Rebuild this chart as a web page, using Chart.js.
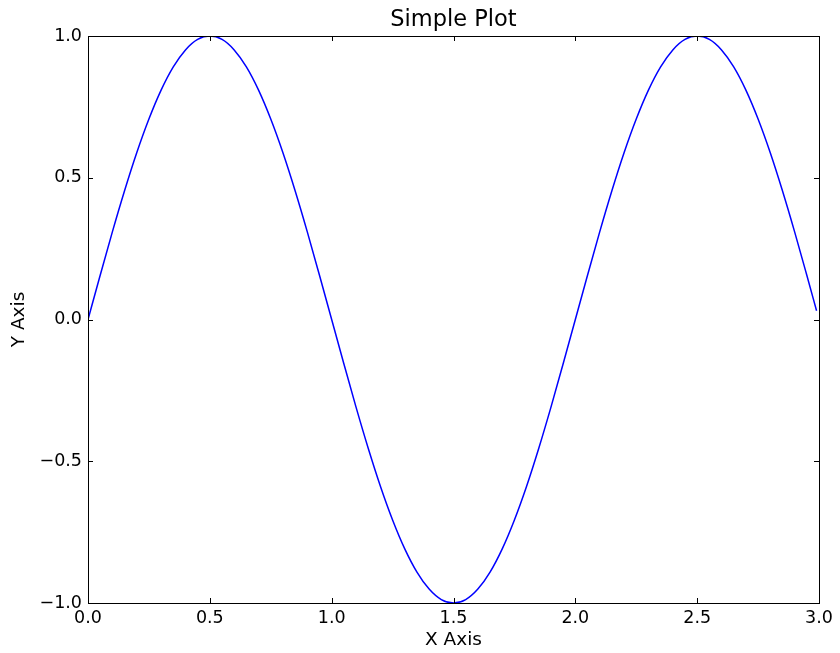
<!DOCTYPE html>
<html>
<head>
<meta charset="utf-8">
<script src="https://cdn.jsdelivr.net/npm/chart.js@4"></script>
<style>
  html, body { margin: 0; padding: 0; background: #ffffff; }
  #wrap { width: 840px; height: 653px; }
</style>
</head>
<body>
<div id="wrap"><canvas id="chart" width="840" height="653"></canvas></div>
<script>
// values
const chartTitle = "Simple Plot";
const xTitle = "X Axis";
const yTitle = "Y Axis";

const xValues = [
  0.00, 0.05, 0.10, 0.15, 0.20, 0.25, 0.30, 0.35, 0.40, 0.45,
  0.50, 0.55, 0.60, 0.65, 0.70, 0.75, 0.80, 0.85, 0.90, 0.95,
  1.00, 1.05, 1.10, 1.15, 1.20, 1.25, 1.30, 1.35, 1.40, 1.45,
  1.50, 1.55, 1.60, 1.65, 1.70, 1.75, 1.80, 1.85, 1.90, 1.95,
  2.00, 2.05, 2.10, 2.15, 2.20, 2.25, 2.30, 2.35, 2.40, 2.45,
  2.50, 2.55, 2.60, 2.65, 2.70, 2.75, 2.80, 2.85, 2.90, 2.95,
  2.99
];
const yValues = [
  0.000, 0.156, 0.309, 0.454, 0.588, 0.707, 0.809, 0.891, 0.951, 0.988,
  1.000, 0.988, 0.951, 0.891, 0.809, 0.707, 0.588, 0.454, 0.309, 0.156,
  0.000, -0.156, -0.309, -0.454, -0.588, -0.707, -0.809, -0.891, -0.951, -0.988,
  -1.000, -0.988, -0.951, -0.891, -0.809, -0.707, -0.588, -0.454, -0.309, -0.156,
  0.000, 0.156, 0.309, 0.454, 0.588, 0.707, 0.809, 0.891, 0.951, 0.988,
  1.000, 0.988, 0.951, 0.891, 0.809, 0.707, 0.588, 0.454, 0.309, 0.156,
  0.031
];
const xTicks = [0.0, 0.5, 1.0, 1.5, 2.0, 2.5, 3.0];
const yTicks = [-1.0, -0.5, 0.0, 0.5, 1.0];

Chart.defaults.font.family = "'DejaVu Sans', sans-serif";
Chart.defaults.color = "#000000";

const fmt = (v) => Number(v).toFixed(1).replace("-", "\u2212");

// matplotlib-like frame, inward ticks on all four sides and the title
const framePlugin = {
  id: "frame",
  afterDraw(chart) {
    const { ctx, chartArea: a, scales } = chart;
    const tl = 5;
    ctx.save();
    ctx.strokeStyle = "#000000";
    ctx.lineWidth = 1;
    ctx.beginPath();
    xTicks.forEach((t) => {
      const px = Math.round(scales.x.getPixelForValue(t)) + 0.5;
      ctx.moveTo(px, a.bottom); ctx.lineTo(px, a.bottom - tl);
      ctx.moveTo(px, a.top); ctx.lineTo(px, a.top + tl);
    });
    yTicks.forEach((t) => {
      const py = Math.round(scales.y.getPixelForValue(t)) + 0.5;
      ctx.moveTo(a.left, py); ctx.lineTo(a.left + tl, py);
      ctx.moveTo(a.right, py); ctx.lineTo(a.right - tl, py);
    });
    ctx.stroke();
    ctx.strokeRect(Math.round(a.left) + 0.5, Math.round(a.top) + 0.5,
      Math.round(a.right - a.left), Math.round(a.bottom - a.top));
    ctx.fillStyle = "#000000";
    ctx.font = "22.5px 'DejaVu Sans', sans-serif";
    ctx.textAlign = "center";
    ctx.textBaseline = "middle";
    ctx.fillText(chartTitle, (a.left + a.right) / 2, 20);
    ctx.restore();
  },
};

new Chart(document.getElementById("chart"), {
  type: "line",
  data: {
    datasets: [
      {
        data: xValues.map((x, i) => ({ x: x, y: yValues[i] })),
        borderColor: "#0000ff",
        borderWidth: 1.5,
        pointRadius: 0,
        fill: false,
        cubicInterpolationMode: "monotone",
      },
    ],
  },
  options: {
    responsive: false,
    animation: false,
    layout: { padding: { top: 36, right: 21, left: 0, bottom: 0 } },
    plugins: { legend: { display: false }, tooltip: { enabled: false } },
    scales: {
      x: {
        type: "linear",
        min: 0,
        max: 3,
        afterFit: (s) => { s.height = 50; },
        afterBuildTicks: (s) => { s.ticks = xTicks.map((v) => ({ value: v })); },
        grid: { display: false, drawTicks: false },
        border: { display: false },
        ticks: { padding: 5, maxRotation: 0, font: { size: 17.5 }, callback: fmt },
        title: { display: true, text: xTitle, font: { size: 18.5 }, padding: { top: 0, bottom: 2 } },
      },
      y: {
        type: "linear",
        min: -1,
        max: 1,
        afterFit: (s) => { s.width = 88; },
        afterBuildTicks: (s) => { s.ticks = yTicks.map((v) => ({ value: v })); },
        grid: { display: false, drawTicks: false },
        border: { display: false },
        ticks: { padding: 6, font: { size: 17.5 }, callback: fmt },
        title: { display: true, text: yTitle, font: { size: 18.5 }, padding: { top: 8, bottom: 0 } },
      },
    },
  },
  plugins: [framePlugin],
});
</script>
</body>
</html>
